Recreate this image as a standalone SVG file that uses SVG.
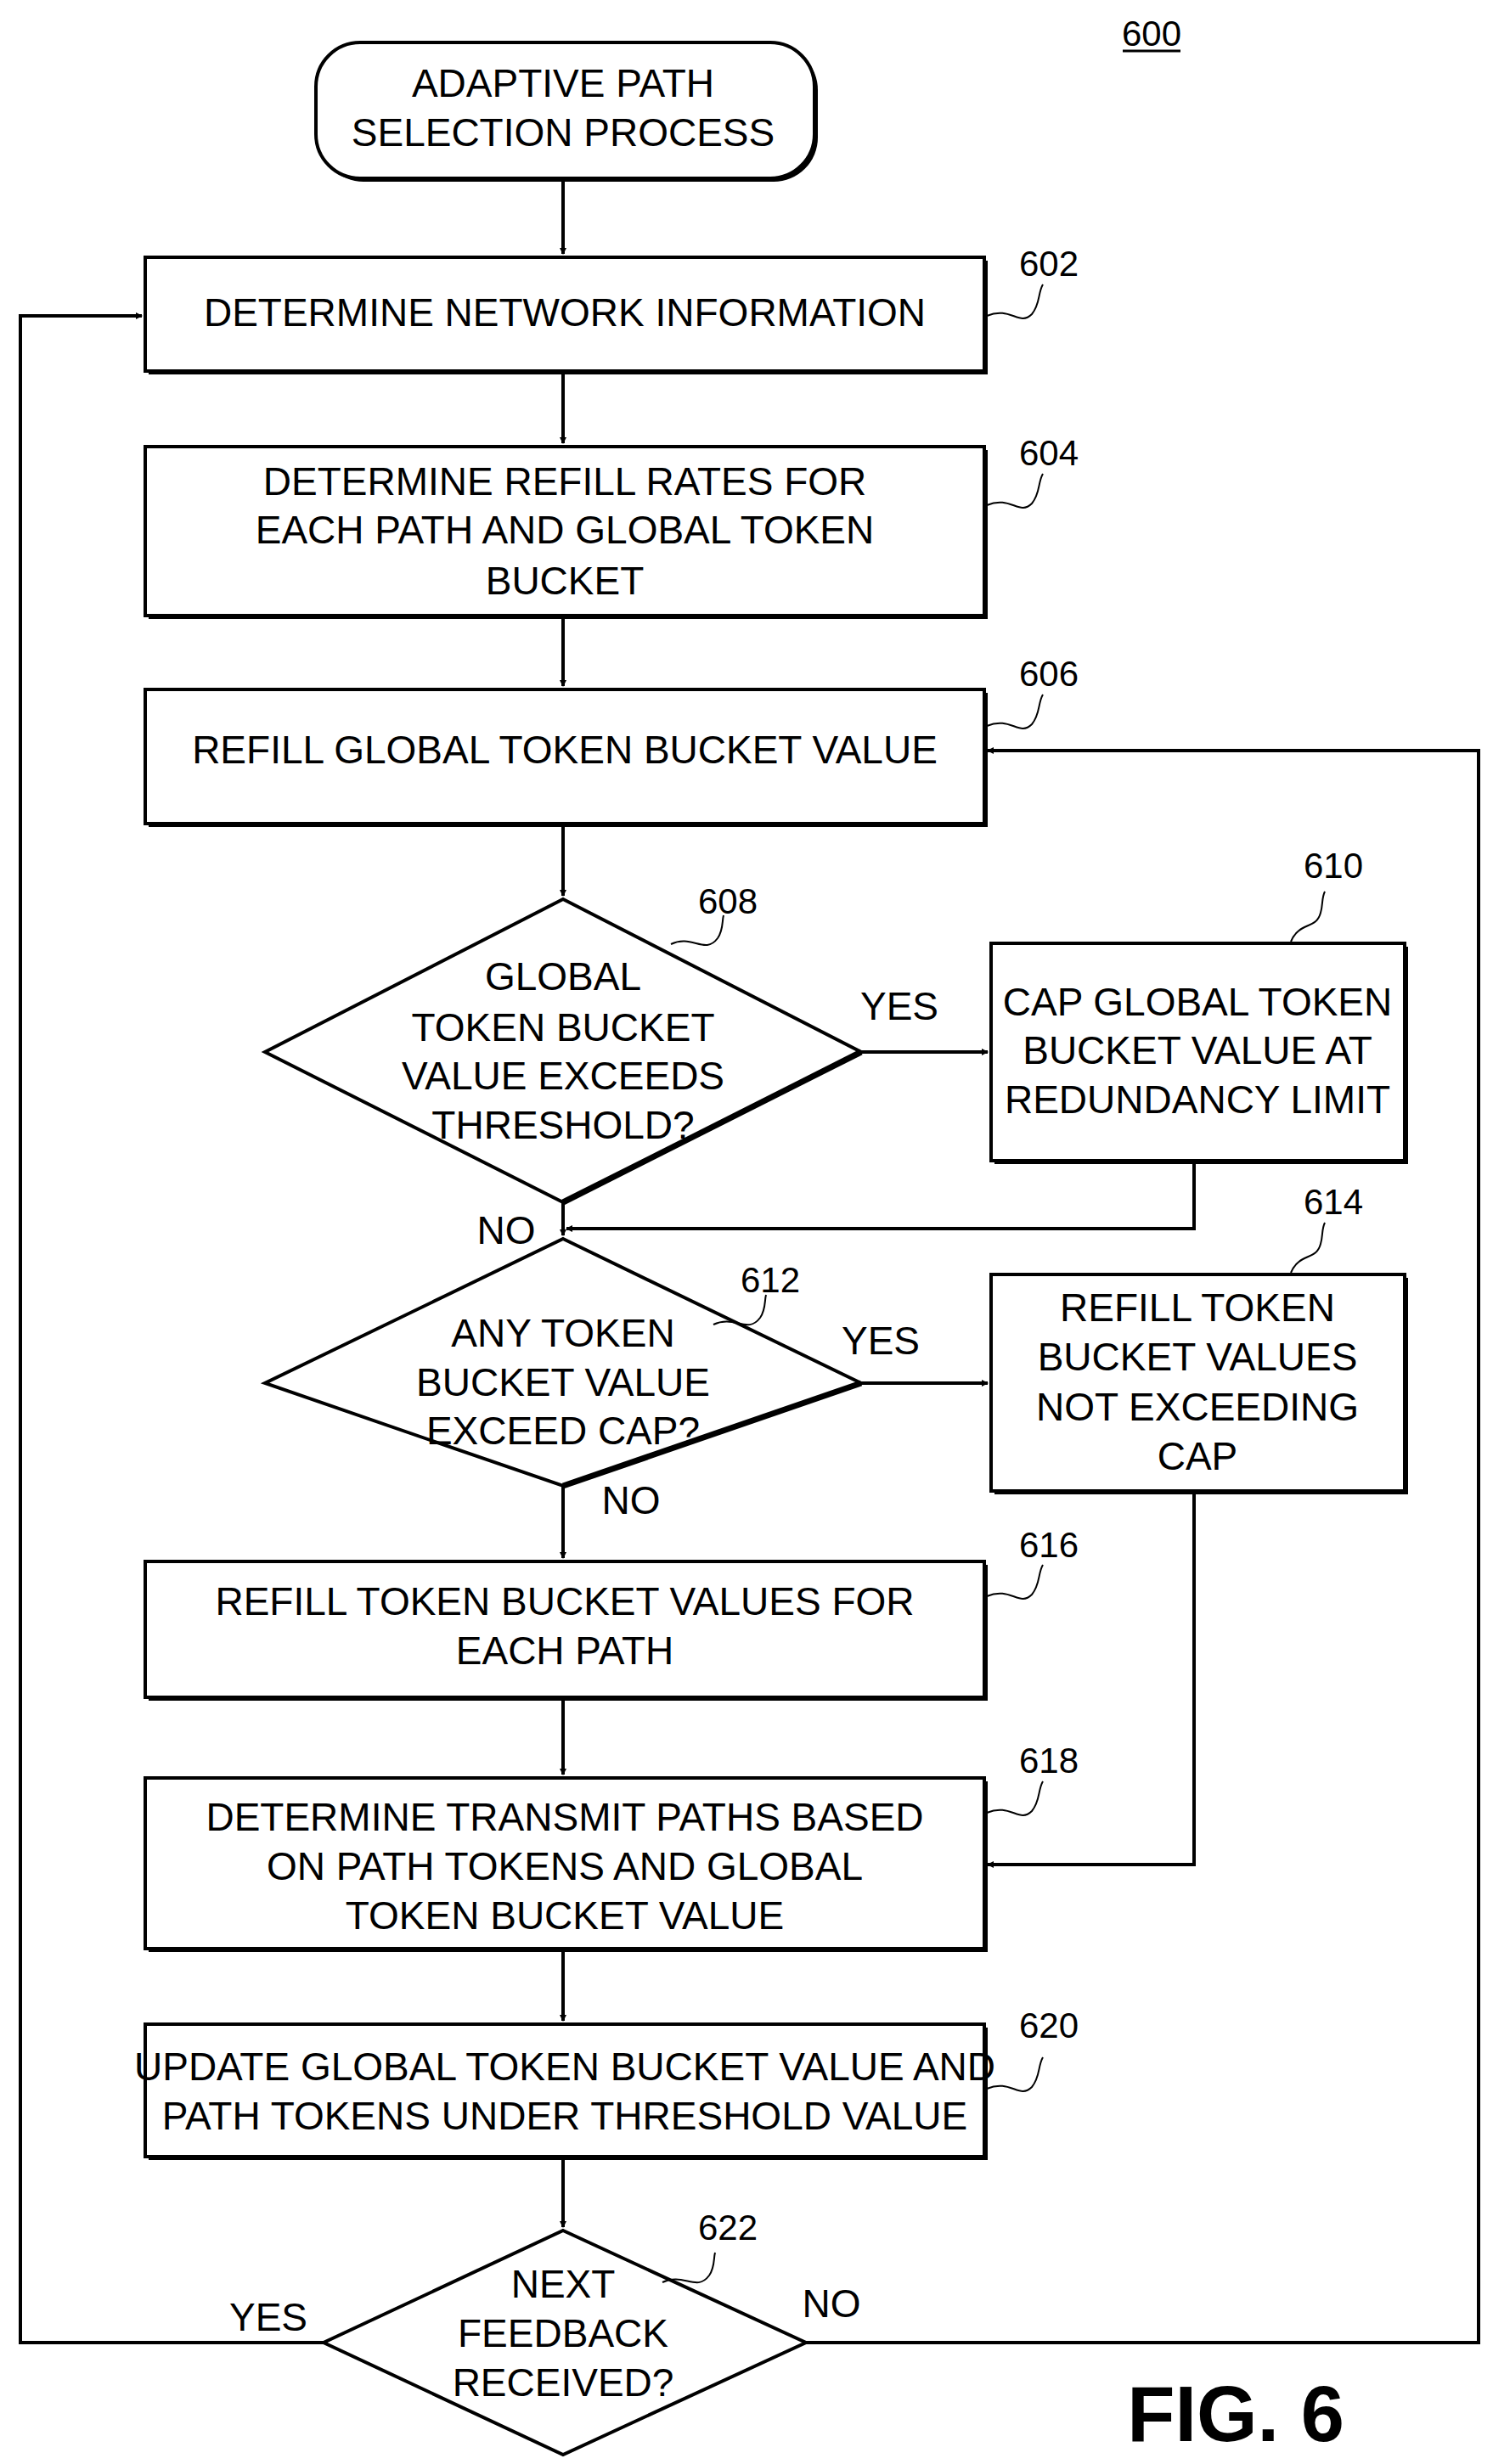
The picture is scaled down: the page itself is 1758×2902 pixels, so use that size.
<svg xmlns="http://www.w3.org/2000/svg" width="1758" height="2902" viewBox="0 0 1758 2902">
<defs>
<marker id="ah" markerWidth="8" markerHeight="8" refX="7" refY="4" orient="auto" markerUnits="userSpaceOnUse" viewBox="0 0 8 8"><path d="M0,0 L8,4 L0,8 z" fill="#000"/></marker>
<style>
.t{font-family:"Liberation Sans Narrow","Liberation Sans",Arial,sans-serif;font-size:46px;text-anchor:middle;fill:#000}
.n{font-family:"Liberation Sans Narrow","Liberation Sans",Arial,sans-serif;font-size:42px;fill:#000}
.b{fill:#fff;stroke:#000;stroke-width:4}
.s{fill:#000}
.c{fill:none;stroke:#000;stroke-width:4}
.q{fill:none;stroke:#000;stroke-width:2}
</style>
</defs>
<rect width="1758" height="2902" fill="#fff"/>
<g id="label600"><text class="n" x="1356" y="54" text-anchor="middle">600</text><line x1="1322" y1="60" x2="1390" y2="60" stroke="#000" stroke-width="3"/></g>
<g id="start"><rect x="376" y="54" width="587" height="160" rx="52" class="s"/><rect x="372" y="50" width="587" height="160" rx="52" class="b"/><text class="t" x="663" y="114">ADAPTIVE PATH</text><text class="t" x="663" y="172">SELECTION PROCESS</text></g>
<g id="n602"><rect x="175" y="307" width="988" height="134" class="s"/><rect x="171" y="303" width="988" height="134" class="b"/><text class="t" x="665" y="384">DETERMINE NETWORK INFORMATION</text><path class="q" d="M1162,372 C1190,360 1200,385 1215,370 C1225,358 1222,345 1228,335"/><text class="n" x="1200" y="325">602</text></g>
<g id="n604"><rect x="175" y="530" width="988" height="199" class="s"/><rect x="171" y="526" width="988" height="199" class="b"/><text class="t" x="665" y="583">DETERMINE REFILL RATES FOR</text><text class="t" x="665" y="640">EACH PATH AND GLOBAL TOKEN</text><text class="t" x="665" y="700">BUCKET</text><path class="q" d="M1162,595 C1190,583 1200,608 1215,593 C1225,581 1222,568 1228,558"/><text class="n" x="1200" y="548">604</text></g>
<g id="n606"><rect x="175" y="816" width="988" height="158" class="s"/><rect x="171" y="812" width="988" height="158" class="b"/><text class="t" x="665" y="899">REFILL GLOBAL TOKEN BUCKET VALUE</text><path class="q" d="M1162,855 C1190,843 1200,868 1215,853 C1225,841 1222,828 1228,818"/><text class="n" x="1200" y="808">606</text></g>
<g id="n608"><polygon points="663,1059 1014,1239 663,1416 312,1239" class="b"/><path d="M1014,1239 L663,1416" stroke="#000" stroke-width="7"/><text class="t" x="663" y="1166">GLOBAL</text><text class="t" x="663" y="1226">TOKEN BUCKET</text><text class="t" x="663" y="1283">VALUE EXCEEDS</text><text class="t" x="663" y="1341">THRESHOLD?</text><path class="q" d="M790,1112 C815,1100 830,1125 845,1105 C852,1095 850,1085 852,1078"/><text class="n" x="822" y="1076">608</text></g>
<g id="n610"><rect x="1171" y="1115" width="487" height="256" class="s"/><rect x="1167" y="1111" width="487" height="256" class="b"/><text class="t" x="1410" y="1196">CAP GLOBAL TOKEN</text><text class="t" x="1410" y="1253">BUCKET VALUE AT</text><text class="t" x="1410" y="1311">REDUNDANCY LIMIT</text><path class="q" d="M1520,1109 C1530,1085 1550,1095 1555,1075 C1558,1065 1556,1058 1560,1050"/><text class="n" x="1535" y="1034">610</text></g>
<g id="n612"><polygon points="663,1459 1014,1629 663,1750 312,1629" class="b"/><path d="M1014,1629 L663,1750" stroke="#000" stroke-width="7"/><text class="t" x="663" y="1586">ANY TOKEN</text><text class="t" x="663" y="1644">BUCKET VALUE</text><text class="t" x="663" y="1701">EXCEED CAP?</text><path class="q" d="M840,1560 C865,1548 880,1572 895,1552 C902,1542 900,1532 902,1525"/><text class="n" x="872" y="1522">612</text></g>
<g id="n614"><rect x="1171" y="1505" width="487" height="255" class="s"/><rect x="1167" y="1501" width="487" height="255" class="b"/><text class="t" x="1410" y="1556">REFILL TOKEN</text><text class="t" x="1410" y="1614">BUCKET VALUES</text><text class="t" x="1410" y="1673">NOT EXCEEDING</text><text class="t" x="1410" y="1731">CAP</text><path class="q" d="M1520,1499 C1530,1475 1550,1485 1555,1465 C1558,1455 1556,1448 1560,1440"/><text class="n" x="1535" y="1430">614</text></g>
<g id="n616"><rect x="175" y="1843" width="988" height="160" class="s"/><rect x="171" y="1839" width="988" height="160" class="b"/><text class="t" x="665" y="1902">REFILL TOKEN BUCKET VALUES FOR</text><text class="t" x="665" y="1960">EACH PATH</text><path class="q" d="M1162,1880 C1190,1868 1200,1893 1215,1878 C1225,1866 1222,1853 1228,1843"/><text class="n" x="1200" y="1834">616</text></g>
<g id="n618"><rect x="175" y="2098" width="988" height="201" class="s"/><rect x="171" y="2094" width="988" height="201" class="b"/><text class="t" x="665" y="2156">DETERMINE TRANSMIT PATHS BASED</text><text class="t" x="665" y="2214">ON PATH TOKENS AND GLOBAL</text><text class="t" x="665" y="2272">TOKEN BUCKET VALUE</text><path class="q" d="M1162,2135 C1190,2123 1200,2148 1215,2133 C1225,2121 1222,2108 1228,2098"/><text class="n" x="1200" y="2088">618</text></g>
<g id="n620"><rect x="175" y="2388" width="988" height="156" class="s"/><rect x="171" y="2384" width="988" height="156" class="b"/><text class="t" x="665" y="2450">UPDATE GLOBAL TOKEN BUCKET VALUE AND</text><text class="t" x="665" y="2508">PATH TOKENS UNDER THRESHOLD VALUE</text><path class="q" d="M1162,2460 C1190,2448 1200,2473 1215,2458 C1225,2446 1222,2433 1228,2423"/><text class="n" x="1200" y="2400">620</text></g>
<g id="n622"><polygon points="663,2627 949,2759 663,2891 381,2759" class="b"/><text class="t" x="663" y="2706">NEXT</text><text class="t" x="663" y="2764">FEEDBACK</text><text class="t" x="663" y="2822">RECEIVED?</text><path class="q" d="M780,2688 C805,2676 820,2700 835,2680 C842,2670 840,2660 842,2653"/><text class="n" x="822" y="2638">622</text></g>
<g id="connectors">
<line class="c" x1="663" y1="210" x2="663" y2="299" marker-end="url(#ah)"/>
<line class="c" x1="663" y1="437" x2="663" y2="522" marker-end="url(#ah)"/>
<line class="c" x1="663" y1="725" x2="663" y2="808" marker-end="url(#ah)"/>
<line class="c" x1="663" y1="970" x2="663" y2="1055" marker-end="url(#ah)"/>
<line class="c" x1="1014" y1="1239" x2="1163" y2="1239" marker-end="url(#ah)"/>
<polyline class="c" points="1406,1367 1406,1447 667,1447" marker-end="url(#ah)"/>
<line class="c" x1="663" y1="1416" x2="663" y2="1455" marker-end="url(#ah)"/>
<line class="c" x1="1014" y1="1629" x2="1163" y2="1629" marker-end="url(#ah)"/>
<line class="c" x1="663" y1="1750" x2="663" y2="1835" marker-end="url(#ah)"/>
<polyline class="c" points="1406,1756 1406,2196 1163,2196" marker-end="url(#ah)"/>
<line class="c" x1="663" y1="1999" x2="663" y2="2090" marker-end="url(#ah)"/>
<line class="c" x1="663" y1="2295" x2="663" y2="2380" marker-end="url(#ah)"/>
<line class="c" x1="663" y1="2540" x2="663" y2="2623" marker-end="url(#ah)"/>
<polyline class="c" points="381,2759 24,2759 24,372 167,372" marker-end="url(#ah)"/>
<polyline class="c" points="949,2759 1741,2759 1741,884 1163,884" marker-end="url(#ah)"/>
<text class="t" x="1059" y="1201">YES</text>
<text class="t" x="596" y="1465">NO</text>
<text class="t" x="1037" y="1595">YES</text>
<text class="t" x="743" y="1783">NO</text>
<text class="t" x="316" y="2745">YES</text>
<text class="t" x="979" y="2729">NO</text>
</g>
<text x="1455" y="2875" font-family="Liberation Sans,Arial,sans-serif" font-weight="bold" font-size="92" text-anchor="middle">FIG. 6</text>
</svg>
